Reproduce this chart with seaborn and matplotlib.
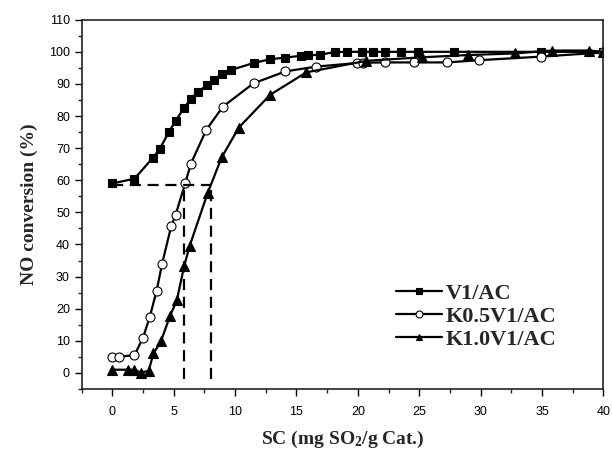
import pandas as pd
import seaborn as sns
import matplotlib.pyplot as plt
from matplotlib.ticker import MultipleLocator

# V1/AC
x_v1 = [0, 1.8, 3.3, 3.85, 4.6, 5.15, 5.85, 6.4, 7.0, 7.7, 8.25, 8.9, 9.7, 11.5, 12.85,
        14.1, 15.4, 15.95, 16.9, 18.1, 19.1, 20.3, 21.2, 22.2, 23.5, 24.9, 27.8, 34.9, 40]
y_v1 = [59, 60.5, 67, 69.7, 75, 78.5, 82.6, 85.3, 87.6, 89.6, 91.3, 93, 94.4, 96.5, 97.7,
        98.2, 98.8, 98.9, 99.1, 99.9, 100, 100, 100, 100, 100, 100, 100, 100, 100]

# K0.5V1/AC
x_k05 = [0, 0.55, 1.8, 2.5, 3.05, 3.6, 4.05, 4.8, 5.15, 5.95, 6.4, 7.65, 9.0, 11.5,
         14.1, 16.6, 19.9, 20.4, 22.2, 24.6, 27.3, 29.9, 34.9, 40]
y_k05 = [5.1, 5.1, 5.5, 11, 17.5, 25.5, 34, 45.8, 49.2, 59.3, 65.2, 75.7, 82.9, 90.2,
         93.9, 95.4, 96.5, 96.6, 96.7, 96.7, 96.7, 97.4, 98.5, 99.8]

# K1.0V1/AC
x_k10 = [0, 1.25, 1.8, 2.3, 2.95, 3.35, 3.95, 4.7, 5.25, 5.85, 6.3, 7.75, 8.9, 10.3,
         12.85, 15.8, 20.7, 25.2, 29.0, 32.8, 35.8, 38.8, 40]
y_k10 = [1, 1, 1, 0.1, 0.6, 6.1, 9.8, 17.8, 22.6, 33.3, 39.6, 55.9, 67.1, 76.4,
         86.6, 93.6, 97.2, 98.3, 99, 99.5, 100.4, 100.4, 100]

# dashed guide lines
guide_y = 58.5
guide_x = [5.8, 8.0]
guide_start = 0

sns.set_style('ticks')
plt.rcParams['mathtext.fontset'] = 'custom'
plt.rcParams['mathtext.rm'] = 'Liberation Serif:bold'
plt.rcParams['mathtext.it'] = 'Liberation Serif:bold'
plt.rcParams['mathtext.bf'] = 'Liberation Serif:bold'

fig = plt.figure(figsize=(6.12, 4.5), dpi=100)
ax = fig.add_axes([0.1335, 0.1356, 0.8523, 0.8206])

series = [
    ('V1/AC', x_v1, y_v1, dict(marker='s', markersize=5.5, markerfacecolor='black')),
    ('K0.5V1/AC', x_k05, y_k05, dict(marker='o', markersize=6.5, markerfacecolor='white')),
    ('K1.0V1/AC', x_k10, y_k10, dict(marker='^', markersize=6.5, markerfacecolor='black')),
]
for name, xs, ys, kw in series:
    df = pd.DataFrame({'x': xs, 'y': ys})
    sns.lineplot(data=df, x='x', y='y', ax=ax, color='black', linewidth=1.6,
                 markeredgecolor='black', markeredgewidth=0.8, label=name, **kw)

ax.hlines(guide_y, guide_start, max(guide_x), colors='black', linestyles=(0, (5, 3)), linewidth=1.6)
ax.vlines(guide_x, -2, guide_y, colors='black', linestyles=(0, (5, 3)), linewidth=1.6)

ax.set_xlim(-2.5, 40)
ax.set_ylim(-5, 110)
ax.xaxis.set_major_locator(MultipleLocator(5))
ax.xaxis.set_minor_locator(MultipleLocator(2.5))
ax.yaxis.set_major_locator(MultipleLocator(10))
ax.yaxis.set_minor_locator(MultipleLocator(5))
ax.tick_params(which='major', direction='out', length=5, width=1, labelsize=9,
               colors='black', labelfontfamily='Liberation Sans')
ax.tick_params(axis='x', which='major', pad=7)
ax.tick_params(which='minor', direction='out', length=3, width=1)
for s in ax.spines.values():
    s.set_linewidth(1.2)
    s.set_color('#222222')

ax.set_xlabel('SC (mg SO$_2$/g Cat.)', fontsize=14, fontweight='bold',
              family='Liberation Serif', labelpad=8)
ax.set_ylabel('NO conversion (%)', fontsize=14, fontweight='bold',
              family='Liberation Serif', labelpad=8)

leg = ax.legend(loc='lower left', bbox_to_anchor=(0.585, 0.082), frameon=False,
                prop={'family': 'Liberation Serif', 'weight': 'bold', 'size': 16},
                handlelength=2.1, handletextpad=0.15, labelspacing=0.1,
                borderaxespad=0)
for h in leg.legend_handles:
    h.set_markersize(5)

fig.savefig('out.png', dpi=100)
